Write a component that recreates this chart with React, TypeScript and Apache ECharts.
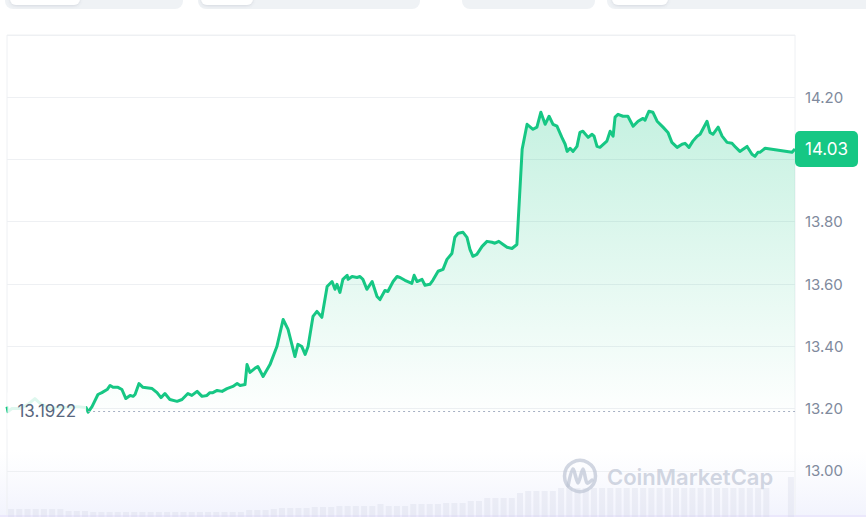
import React, { useEffect, useRef } from "react";
import * as echarts from "echarts";

// time of day in hours since start of the 24h window
const hours = [
  0, 0.03, 0.15, 0.4, 0.64, 0.85, 1.01, 1.31, 1.61, 1.92, 2.16, 2.35, 2.41, 2.47, 2.59, 2.77, 2.89, 3.05, 3.14, 3.23,
  3.38, 3.5, 3.62, 3.75, 3.84, 3.9, 4.02, 4.14, 4.42, 4.57, 4.69, 4.81, 4.96, 5.18, 5.33, 5.51, 5.63, 5.79, 5.94, 6.09,
  6.18, 6.27, 6.4, 6.55, 6.7, 6.88, 7.01, 7.1, 7.25, 7.31, 7.4, 7.55, 7.64, 7.8, 8.01, 8.22, 8.41, 8.56, 8.77, 8.86,
  8.98, 9.08, 9.17, 9.32, 9.44, 9.59, 9.75, 9.9, 9.99, 10.05, 10.14, 10.23, 10.36, 10.39, 10.51, 10.66, 10.75, 10.84, 10.96, 11.12,
  11.27, 11.36, 11.51, 11.6, 11.76, 11.88, 11.97, 12.12, 12.33, 12.4, 12.49, 12.64, 12.73, 12.88, 12.97, 13.13, 13.28, 13.4, 13.55, 13.64,
  13.74, 13.89, 14.01, 14.1, 14.19, 14.31, 14.47, 14.62, 14.77, 14.86, 14.98, 15.11, 15.23, 15.38, 15.53, 15.69, 15.84, 16.02, 16.14, 16.26,
  16.39, 16.51, 16.63, 16.75, 16.9, 17.0, 17.06, 17.15, 17.24, 17.36, 17.45, 17.54, 17.7, 17.82, 17.88, 17.97, 18.06, 18.27, 18.37, 18.46,
  18.52, 18.61, 18.76, 18.91, 19.07, 19.22, 19.37, 19.43, 19.55, 19.67, 19.8, 19.98, 20.13, 20.25, 20.41, 20.56, 20.65, 20.77, 20.89, 21.02,
  21.11, 21.32, 21.41, 21.5, 21.66, 21.78, 21.93, 22.08, 22.17, 22.32, 22.54, 22.69, 22.78, 22.87, 22.93, 23.09, 23.91, 24.0,
];

// price in USD
const prices = [
  13.206, 13.19, 13.2, 13.2, 13.213, 13.232, 13.216, 13.2, 13.203, 13.203, 13.206, 13.203, 13.203, 13.188, 13.206, 13.245, 13.251, 13.261, 13.274, 13.268,
  13.268, 13.261, 13.232, 13.242, 13.239, 13.245, 13.28, 13.268, 13.264, 13.251, 13.235, 13.248, 13.229, 13.223, 13.229, 13.248, 13.242, 13.255, 13.239, 13.242,
  13.251, 13.251, 13.258, 13.255, 13.264, 13.271, 13.28, 13.274, 13.277, 13.341, 13.316, 13.329, 13.335, 13.303, 13.341, 13.399, 13.486, 13.454, 13.367, 13.406,
  13.399, 13.374, 13.399, 13.496, 13.512, 13.493, 13.592, 13.608, 13.583, 13.599, 13.573, 13.615, 13.628, 13.615, 13.624, 13.621, 13.624, 13.615, 13.583, 13.608,
  13.56, 13.55, 13.579, 13.576, 13.608, 13.624, 13.621, 13.612, 13.602, 13.628, 13.608, 13.615, 13.596, 13.599, 13.612, 13.641, 13.647, 13.679, 13.698, 13.75,
  13.763, 13.766, 13.75, 13.711, 13.689, 13.695, 13.721, 13.737, 13.734, 13.731, 13.737, 13.727, 13.718, 13.714, 13.727, 14.033, 14.113, 14.097, 14.104, 14.152,
  14.113, 14.139, 14.113, 14.107, 14.071, 14.049, 14.026, 14.036, 14.026, 14.042, 14.087, 14.091, 14.071, 14.081, 14.075, 14.042, 14.039, 14.059, 14.091, 14.075,
  14.136, 14.145, 14.139, 14.139, 14.107, 14.123, 14.132, 14.126, 14.155, 14.152, 14.123, 14.104, 14.087, 14.055, 14.039, 14.049, 14.052, 14.039, 14.059, 14.075,
  14.081, 14.123, 14.087, 14.081, 14.104, 14.075, 14.055, 14.052, 14.042, 14.026, 14.042, 14.017, 14.01, 14.023, 14.023, 14.036, 14.023, 14.034,
];

// 15-minute volume buckets (relative units)
const volumes = [
  11, 11, 11, 11, 11, 11, 11, 9, 9, 9, 8, 8, 8, 8, 8, 8, 8, 8, 8, 8,
  8, 8, 8, 8, 8, 8, 8, 8, 8, 10, 10, 10, 11, 12, 12, 12, 12, 13, 13, 13,
  14, 14, 14, 14, 14, 16, 14, 14, 14, 16, 16, 16, 16, 17, 17, 17, 19, 19, 22, 22,
  22, 22, 27, 29, 29, 29, 29, 32, 32, 32, 32, 32, 32, 32, 32, 32, 32, 32, 32, 32,
  32, 32, 32, 32, 32, 32, 32, 32, 32, 32, 32, 32, 32, 0, 0, 43,
];

const openPrice = 13.1922;
const yMin = 12.8;
const yMax = 14.4;
const yStep = 0.2;
const watermark = "CoinMarketCap";

const GREEN = "#16C784";
const FONT = "Inter, Roboto, sans-serif";

export default function App() {
  const ref = useRef<HTMLDivElement>(null);

  useEffect(() => {
    if (!ref.current) return;
    const chart = echarts.init(ref.current, undefined, { renderer: "svg" });
    const line = hours.map((h, i) => [h, prices[i]]);
    const vol = volumes.map((v, i) => [i * 0.25 + 0.125, v]);
    const last = prices[prices.length - 1];
    const lineStart = hours[13];
    const tEnd = hours[hours.length - 1];

    const tab = (x: number, w: number, inner?: [number, number]) => {
      const els: any[] = [
        { type: "rect", silent: true, shape: { x, y: -20, width: w, height: 29, r: 8 }, style: { fill: "#EFF2F5" } },
      ];
      if (inner)
        els.push({
          type: "rect",
          silent: true,
          shape: { x: inner[0], y: -20, width: inner[1] - inner[0], height: 25, r: 6 },
          style: { fill: "#fff", shadowBlur: 3, shadowColor: "rgba(88,102,126,0.18)", shadowOffsetY: 1 },
        });
      return els;
    };

    chart.setOption({
      animation: false,
      backgroundColor: "#fff",
      grid: [
        { left: 7, right: 71, top: 35, bottom: 27, show: true, borderColor: "#EEF0F3", borderWidth: 1 },
        { left: 7, right: 71, top: 440, bottom: 40 },
      ],
      xAxis: [
        { type: "value", min: 0, max: 24, show: false, gridIndex: 0 },
        { type: "value", min: 0, max: 24, show: false, gridIndex: 1 },
      ],
      yAxis: [
        {
          type: "value",
          gridIndex: 0,
          position: "right",
          min: yMin,
          max: yMax,
          interval: yStep,
          axisLine: { show: false },
          axisTick: { show: false },
          splitLine: { lineStyle: { color: "#EEF0F3", width: 1 } },
          axisLabel: {
            margin: 10,
            color: "#808A9D",
            fontSize: 15,
            fontFamily: FONT,
            showMaxLabel: false,
            showMinLabel: false,
            formatter: (v: number) => v.toFixed(2),
          },
        },
        { type: "value", gridIndex: 1, min: 0, max: 80, show: false },
      ],
      graphic: [
        {
          type: "rect",
          silent: true,
          z: -1,
          shape: { x: 0, y: 450, width: 866, height: 67 },
          style: {
            fill: new echarts.graphic.LinearGradient(0, 0, 0, 1, [
              { offset: 0, color: "rgba(240,242,252,0)" },
              { offset: 1, color: "rgba(236,238,252,0.7)" },
            ]),
          },
        },
        { type: "rect", silent: true, shape: { x: 0, y: 515, width: 866, height: 2 }, style: { fill: "#EBE8FC" } },
        ...tab(5, 178, [10, 80]),
        ...tab(198, 222, [201, 253]),
        ...tab(462, 133),
        ...tab(607, 280, [612, 668]),
        {
          type: "circle",
          silent: true,
          z: 10,
          shape: { cx: 580, cy: 476, r: 15.5 },
          style: { fill: "none", stroke: "rgba(190,197,212,0.7)", lineWidth: 3.5 },
        },
        {
          type: "polyline",
          silent: true,
          z: 10,
          shape: {
            points: [
              [568, 486],
              [573, 469],
              [578, 483],
              [583, 469],
              [587, 483],
              [592, 480],
            ],
            smooth: 0.3,
          },
          style: { fill: "none", stroke: "rgba(190,197,212,0.7)", lineWidth: 3.5, lineJoin: "round", lineCap: "round" },
        },
        {
          type: "text",
          silent: true,
          z: 10,
          x: 607,
          y: 477,
          style: {
            text: watermark,
            fill: "rgba(190,197,212,0.7)",
            fontSize: 22,
            fontWeight: 600,
            fontFamily: FONT,
            verticalAlign: "middle",
          },
        },
      ],
      series: [
        {
          type: "bar",
          xAxisIndex: 1,
          yAxisIndex: 1,
          data: vol,
          barWidth: 6,
          itemStyle: { color: "rgba(210,215,230,0.32)" },
          silent: true,
        },
        {
          type: "line",
          xAxisIndex: 0,
          yAxisIndex: 0,
          data: line,
          showSymbol: false,
          symbol: "none",
          lineStyle: { width: 3, color: GREEN, join: "round" },
          itemStyle: { color: GREEN },
          areaStyle: {
            origin: openPrice,
            color: new echarts.graphic.LinearGradient(0, 0, 0, 1, [
              { offset: 0, color: "rgba(22,199,132,0.35)" },
              { offset: 1, color: "rgba(22,199,132,0.01)" },
            ]),
          },
          markLine: {
            silent: true,
            symbol: ["none", "none"],
            data: [
              [
                {
                  coord: [lineStart, openPrice],
                  lineStyle: { color: "#A6B0C3", type: [2, 3], width: 1 },
                  label: {
                    show: true,
                    position: "start",
                    distance: 2,
                    formatter: () => openPrice.toFixed(4),
                    color: "#58667E",
                    fontSize: 17,
                    fontFamily: FONT,
                    backgroundColor: "rgba(255,255,255,0.86)",
                    padding: [14, 10, 6, 10],
                  },
                },
                { coord: [tEnd, openPrice] },
              ],
              [
                {
                  coord: [0, last],
                  lineStyle: { color: "rgba(0,0,0,0)", width: 1 },
                  label: {
                    show: true,
                    position: "end",
                    distance: 0,
                    formatter: () => last.toFixed(2),
                    color: "#fff",
                    fontSize: 17,
                    fontFamily: FONT,
                    backgroundColor: GREEN,
                    borderRadius: 5,
                    padding: [10, 10, 9, 10],
                  },
                },
                { coord: [tEnd, last] },
              ],
            ],
          },
        },
      ],
    });

    return () => chart.dispose();
  }, []);

  return <div ref={ref} style={{ position: "fixed", left: 0, top: 0, width: 866, height: 560 }} />;
}
